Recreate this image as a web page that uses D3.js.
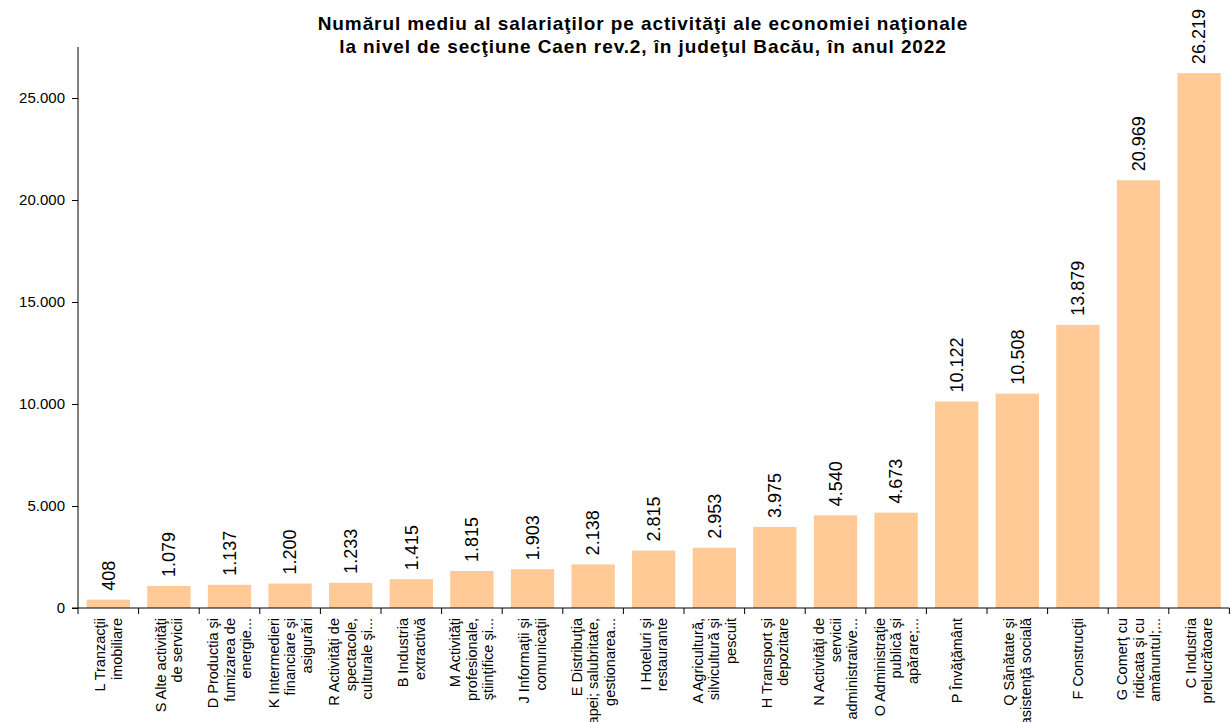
<!DOCTYPE html>
<html lang="ro">
<head>
    <meta charset="UTF-8">
    <title>Numărul mediu al salariaţilor - Bacău 2022</title>
    <script src="https://d3js.org/d3.v7.min.js"></script>
    <style>
        body { margin: 0; background: #fff; }
        text { font-family: Arial, "Liberation Sans", sans-serif; fill: #000; }
        .title { font-weight: bold; font-size: 19px; letter-spacing: 0.9px; }
        .val { font-size: 18px; }
        .ytick { font-size: 15px; }
        .xlab { font-size: 14.5px; }
    </style>
</head>
<body>
    <svg width="1230" height="722"></svg>
    <script>
        // categorii (rânduri de etichetă) şi valori
        const categories = [
            ["L Tranzacţii", "imobiliare"],
            ["S Alte activităţi", "de servicii"],
            ["D Productia şi", "fumizarea de", "energie..."],
            ["K Intermedieri", "financiare şi", "asigurări"],
            ["R Activităţi de", "spectacole,", "culturale şi..."],
            ["B Industria", "extractivă"],
            ["M Activităţi", "profesionale,", "ştiinţifice şi..."],
            ["J Informaţii şi", "comunicaţii"],
            ["E Distribuţia", "apei; salubritate,", "gestionarea..."],
            ["I Hoteluri şi", "restaurante"],
            ["A  Agricultură,", "silvicultură şi", "pescuit"],
            ["H Transport şi", "depozitare"],
            ["N Activităţi de", "servicii", "administrative..."],
            ["O Administraţie", "publică şi", "apărare;..."],
            ["P Învăţământ"],
            ["Q Sănătate şi", "asistenţă socială"],
            ["F Construcţii"],
            ["G Comerţ cu", "ridicata şi cu", "amănuntul;..."],
            ["C Industria", "prelucrătoare"]
        ];
        const values = [408, 1079, 1137, 1200, 1233, 1415, 1815, 1903, 2138, 2815,
                        2953, 3975, 4540, 4673, 10122, 10508, 13879, 20969, 26219];
        const yTicks = [0, 5000, 10000, 15000, 20000, 25000];
        const titleLines = [
            "Numărul mediu al salariaţilor pe activităţi ale economiei naţionale",
            "la nivel de secţiune Caen rev.2, în judeţul Bacău, în anul 2022"
        ];

        const data = categories.map((c, i) => ({ key: i, lines: c, value: values[i] }));

        const svg = d3.select("svg");
        const plotL = 78, plotR = 1229.4, plotT = 47, plotB = 608;

        const x = d3.scaleBand()
            .domain(data.map(d => d.key))
            .range([plotL, plotR])
            .paddingInner(0.285)
            .paddingOuter(0.1425);

        const y = d3.scaleLinear()
            .domain([0, 27500])
            .range([plotB, plotT]);

        const fmt = v => d3.format(",")(v).replace(/,/g, ".");

        // titlu
        svg.append("g").selectAll("text")
            .data(titleLines)
            .enter().append("text")
            .attr("class", "title")
            .attr("x", 643)
            .attr("y", (d, i) => 30 + i * 22.5)
            .attr("text-anchor", "middle")
            .text(d => d);

        // bare
        svg.selectAll(".bar")
            .data(data)
            .enter().append("rect")
            .attr("class", "bar")
            .attr("x", d => x(d.key))
            .attr("y", d => y(d.value))
            .attr("width", x.bandwidth())
            .attr("height", d => y(0) - y(d.value))
            .attr("fill", "#ffca96");

        // etichete valori
        svg.selectAll(".val")
            .data(data)
            .enter().append("text")
            .attr("class", "val")
            .attr("transform", d => `translate(${x(d.key) + x.bandwidth() / 2}, ${y(d.value) - 9}) rotate(-90)`)
            .attr("dy", "0.35em")
            .text(d => fmt(d.value));

        // axa Y
        const yAxis = svg.append("g")
            .attr("transform", `translate(${plotL}, 0)`)
            .call(d3.axisLeft(y).tickValues(yTicks).tickFormat(fmt).tickSize(6).tickPadding(7));
        yAxis.select(".domain").attr("d", `M0,${plotT}V${plotB}`).attr("stroke", "#000");
        yAxis.selectAll("line").attr("stroke", "#000");
        yAxis.selectAll("text").attr("class", "ytick").attr("font-family", null).attr("font-size", null);

        // axa X
        svg.append("line")
            .attr("x1", plotL - 6).attr("x2", plotR)
            .attr("y1", plotB).attr("y2", plotB)
            .attr("stroke", "#000");

        const step = x.step();
        svg.selectAll(".xtick")
            .data(d3.range(data.length + 1))
            .enter().append("line")
            .attr("x1", i => plotL + i * step).attr("x2", i => plotL + i * step)
            .attr("y1", plotB).attr("y2", plotB + 6)
            .attr("stroke", "#000");

        const lineH = 16.5;
        const xl = svg.selectAll(".xlab")
            .data(data)
            .enter().append("text")
            .attr("class", "xlab")
            .attr("text-anchor", "end")
            .attr("transform", d => {
                const cx = x(d.key) + x.bandwidth() / 2 - (d.lines.length - 1) * lineH / 2;
                return `translate(${cx}, 618) rotate(-90)`;
            });
        xl.selectAll("tspan")
            .data(d => d.lines)
            .enter().append("tspan")
            .attr("x", 0)
            .attr("y", (d, i) => i * lineH)
            .attr("dy", "0.35em")
            .text(d => d);
    </script>
</body>
</html>
